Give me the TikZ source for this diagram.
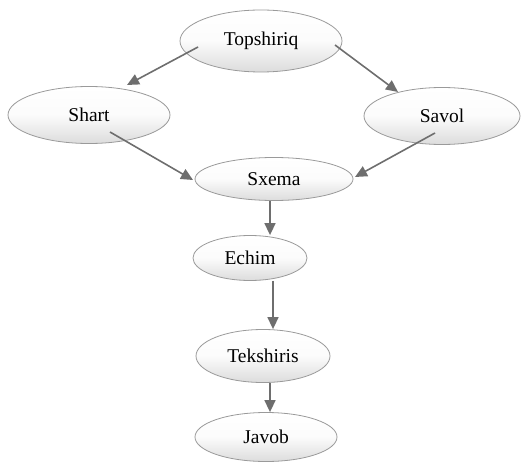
\documentclass[tikz,border=0pt]{standalone}
\usepackage{fontspec}
\setmainfont{Liberation Serif}
\usetikzlibrary{shapes.geometric,arrows.meta}
\definecolor{edgegray}{HTML}{9A9A9A}
\definecolor{arrgray}{HTML}{6E6E6E}
\definecolor{fillbot}{HTML}{DCDCDC}
\begin{document}
\begin{tikzpicture}[x=1pt,y=-1pt,
  nd/.style={ellipse, draw=edgegray, line width=0.8pt, top color=white, bottom color=fillbot, middle color=white!90!fillbot, inner sep=0pt, font=\fontsize{19.5}{19.5}\selectfont},
  arr/.style={-{Triangle[length=12pt,width=11pt]}, draw=arrgray, fill=arrgray, line width=1.6pt}]
\useasboundingbox (0,0) rectangle (521,465);
\node[nd, minimum width=162pt, minimum height=62pt] (tp) at (261,41) {Topshiriq};
\node[nd, minimum width=162pt, minimum height=57pt] (sh) at (89,115) {Shart};
\node[nd, minimum width=156pt, minimum height=57pt] (sv) at (442,116) {Savol};
\node[nd, minimum width=158pt, minimum height=43pt] (sx) at (274,179) {Sxema};
\node[nd, minimum width=114pt, minimum height=45pt] (ec) at (250,258) {Echim};
\node[nd, minimum width=134pt, minimum height=53pt] (tk) at (263,356) {Tekshiris};
\node[nd, minimum width=142pt, minimum height=49pt] (jv) at (266,437) {Javob};
\draw[arr] ([shift={(-63,6)}]tp.center) -- ([shift={(38,-30)}]sh.center);
\draw[arr] ([shift={(74,4)}]tp.center) -- ([shift={(-44,-24)}]sv.center);
\draw[arr] ([shift={(21,17)}]sh.center) -- ([shift={(-81,1)}]sx.center);
\draw[arr] ([shift={(-7,17)}]sv.center) -- ([shift={(81,-2)}]sx.center);
\draw[arr] ([xshift=-4pt]sx.south) -- ([xshift=-4pt]sx.south |- ec.north);
\draw[arr] ([xshift=23pt]ec.south) -- ([xshift=23pt]ec.south |- tk.north);
\draw[arr] ([xshift=7pt]tk.south) -- ([xshift=7pt]tk.south |- jv.north);
\end{tikzpicture}
\end{document}
